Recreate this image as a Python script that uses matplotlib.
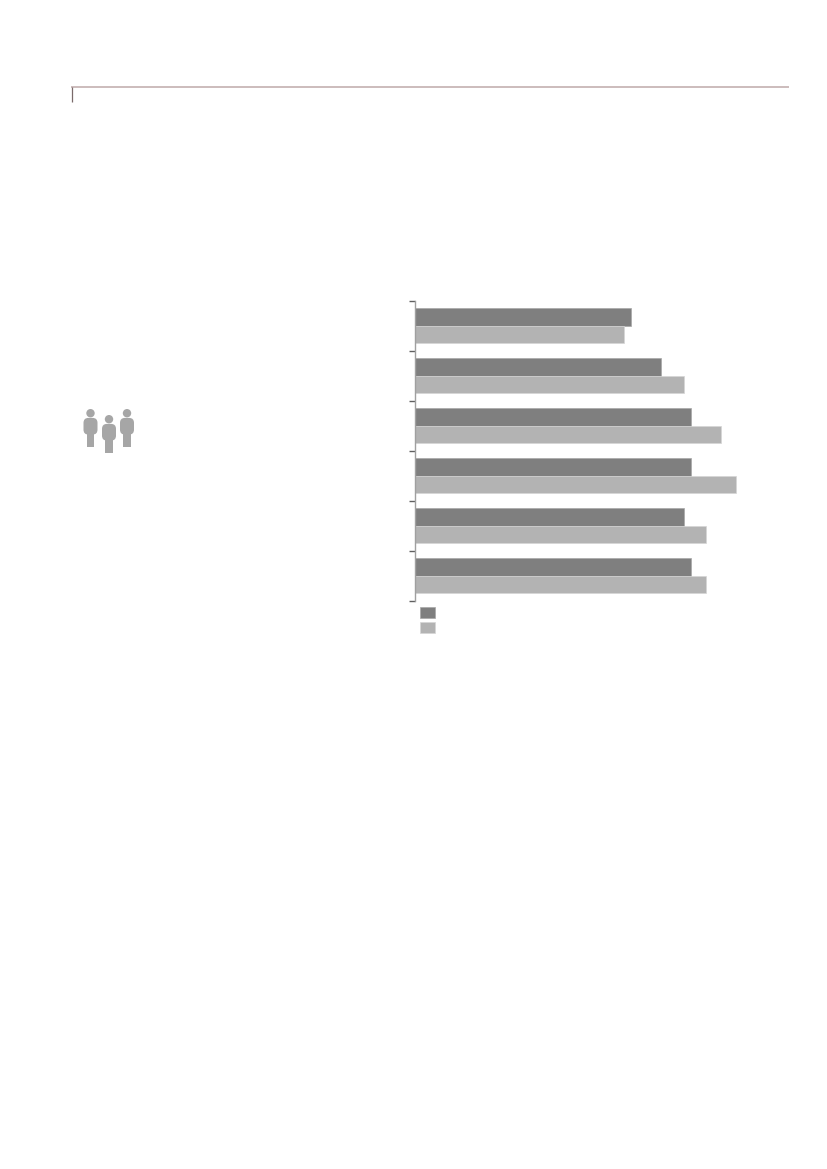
import matplotlib
matplotlib.use('Agg')
import matplotlib.pyplot as plt
from matplotlib.patches import Circle, FancyBboxPatch, Rectangle

# the reference shows no readable text, so categories and series stay blank
categories = ['', '', '', '', '', '']
series_a = [29, 33, 37, 37, 36, 37]
series_b = [28, 36, 41, 43, 39, 39]
series_labels = [' ', ' ']

W, H = 827, 1169
dark = '#7f7f7f'
light = '#b3b3b3'
icon = '#a6a6a6'

fig = plt.figure(figsize=(W / 100, H / 100), dpi=100)

# page furniture, in pixel coordinates
page = fig.add_axes([0, 0, 1, 1])
page.set_xlim(0, W)
page.set_ylim(H, 0)
page.axis('off')
page.plot([71, 789], [87, 87], color='#c4b0b0', lw=1.2, solid_capstyle='butt')
page.plot([71.5, 71.5], [87, 102], color='#7a6a6a', lw=0.9, solid_capstyle='butt')

# three little people
for cx, top in [(90.5, 409), (109, 415), (127, 409)]:
    page.add_patch(Circle((cx, top + 4.2), 4.2, color=icon, lw=0))
    page.add_patch(FancyBboxPatch((cx - 5.4, top + 10.5), 10.8, 13.5,
                                  boxstyle='round,pad=1.6,rounding_size=5',
                                  color=icon, lw=0))
    page.add_patch(Rectangle((cx - 3.6, top + 24), 7.2, 14, color=icon, lw=0))

# bars
left, right = 415, 760
top, bottom = 300.5, 601
ax = fig.add_axes([left / W, 1 - bottom / H, (right - left) / W, (bottom - top) / H])
ax.patch.set_alpha(0)
y = list(range(len(categories)))
h = 0.35
ax.barh([i - h / 2 for i in y], series_a, height=h, color=dark, edgecolor='#a8a8a8',
        linewidth=0.5, label=series_labels[0])
ax.barh([i + h / 2 for i in y], series_b, height=h, color=light, edgecolor='#d6d6d6',
        linewidth=0.5, label=series_labels[1])
ax.set_xlim(0, (right - left) / 7.46)
ax.set_ylim(len(categories) - 0.5, -0.5)

ax.set_yticks([i - 0.5 for i in y] + [len(categories) - 0.5])
ax.set_yticklabels(categories + [''])
ax.tick_params(axis='y', length=4, width=1, color='#606060', pad=2)
ticks = ax.yaxis.get_major_ticks()
ticks[0].tick1line.set_color('#a0a0a0')
ticks[-1].tick1line.set_color('#a0a0a0')
ax.xaxis.set_visible(False)
for s in ['top', 'right', 'bottom']:
    ax.spines[s].set_visible(False)
ax.spines['left'].set_color('#a0a0a0')
ax.spines['left'].set_linewidth(1.0)

ax.legend(loc='upper left', bbox_to_anchor=(-0.003, 0.002), frameon=False, ncol=1,
          handlelength=1.3, handleheight=1.05, labelspacing=0.2, fontsize=8.5,
          borderpad=0.2, borderaxespad=0.3, handletextpad=0.5)

fig.savefig('out.png', dpi=100)
